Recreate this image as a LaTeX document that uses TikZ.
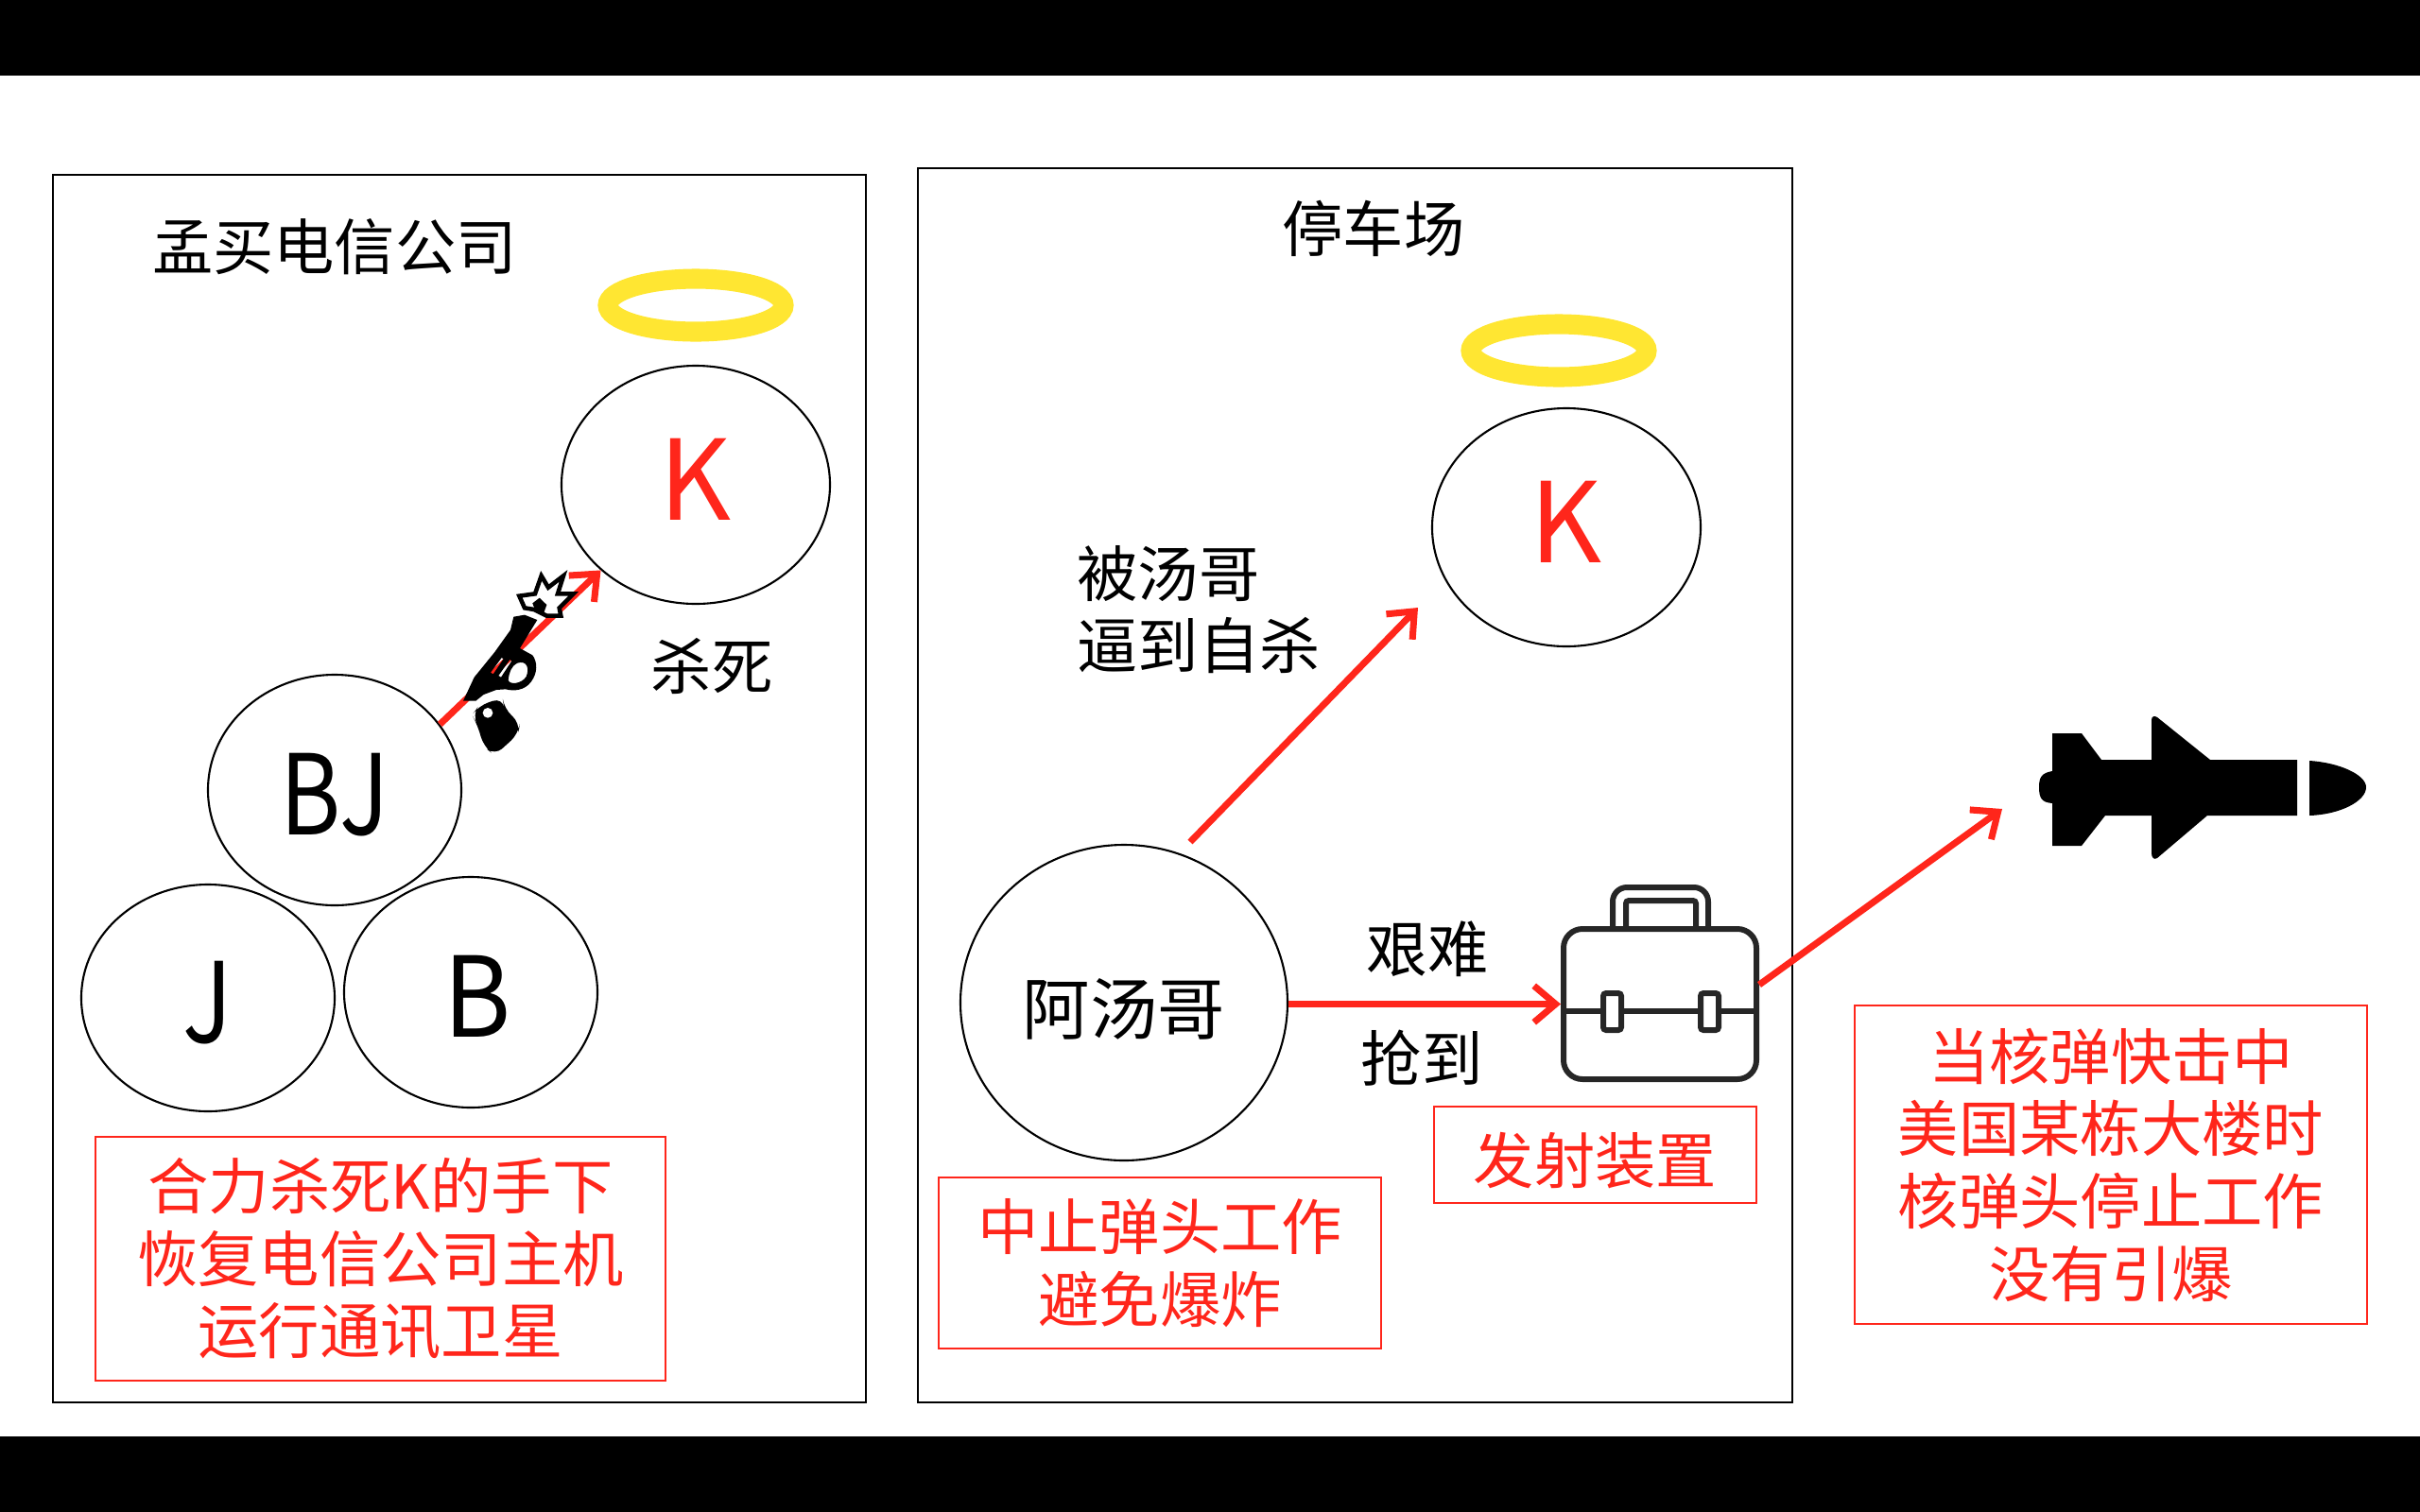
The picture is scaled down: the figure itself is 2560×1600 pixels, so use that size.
\documentclass[tikz,border=0pt]{standalone}
\usepackage{fontspec}
\setmainfont{Noto Sans CJK SC}
\usetikzlibrary{positioning,shapes.geometric,arrows.meta}
\definecolor{redc}{RGB}{255,38,27}
\definecolor{haloc}{RGB}{255,230,50}
\newcommand{\textsz}{\fontsize{18.3pt}{21.8pt}\selectfont}

\begin{document}
\begin{tikzpicture}[x=0.1mm, y=-0.1mm, >={Straight Barb[length=6.5pt,width=11pt]},
  panel/.style={rectangle, draw, line width=0.6pt, inner sep=0pt},
  person/.style={ellipse, draw, line width=0.6pt, inner sep=0pt, minimum width=26.8mm, minimum height=24.4mm, font=\fontsize{33.5pt}{34pt}\selectfont, text height=27.3pt, text depth=0pt},
  killer/.style={person, text=redc, minimum width=28.4mm, minimum height=25.2mm, text height=24.5pt, text depth=3.4pt},
  halo/.style={ellipse, draw=haloc, line width=6pt, inner sep=0pt, minimum width=18.6mm, minimum height=5.6mm},
  note/.style={rectangle, draw=redc, line width=0.6pt, text=redc, align=center, inner sep=0pt, font=\textsz, execute at begin node={\rule{0pt}{19pt}}},
  label/.style={font=\textsz, align=left, inner sep=0pt},
  redarrow/.style={->, color=redc, line width=2pt}]

    \useasboundingbox (0,0) rectangle (2560,1600);
    \fill[black] (0,0) rectangle (2560,80);
    \fill[black] (0,1520) rectangle (2560,1600);

    % left panel
    \node[panel, minimum width=86mm, minimum height=129.9mm] (mumbai) at (486,834.5) {};
    \node[label] (mumbaititle) at (354,261) {孟买电信公司};
    \node[killer] (kone) at (736,513) {K};
    \node[halo, above of=kone, node distance=19mm] (haloone) {};
    \node[person] (bj) at (354,836) {\scalebox{0.83}[1]{BJ}};
    \node[person, minimum height=24mm] (j) at (220,1056) {\scalebox{0.83}[1]{J}};
    \node[person] (b) at (498,1050) {\hspace*{4pt}\scalebox{0.92}[1]{B}};
    \node[label] (kill) at (753,705) {杀死};
    \node[note, minimum width=60.3mm, minimum height=25.8mm] (notekill) at (402.5,1332) {合力杀死K的手下\\恢复电信公司主机\\运行通讯卫星};

    % right panel
    \node[panel, minimum width=92.5mm, minimum height=130.6mm] (parking) at (1433.5,831) {};
    \node[label] (parkingtitle) at (1453,242) {停车场};
    \node[killer] (ktwo) at (1657,558) {K};
    \node[halo, above of=ktwo, node distance=18.7mm, xshift=-0.8mm] (halotwo) {};
    \node[person, minimum width=34.6mm, minimum height=33.4mm, font=\fontsize{20.3pt}{20pt}\selectfont, text height=19pt, text depth=0pt] (tom) at (1189,1061) {阿汤哥};
    \node[label] (forced) at (1268,645) {被汤哥\\逼到自杀};
    \node[label] (hard) at (1510,1004) {艰难};
    \node[label] (grab) at (1504,1120) {抢到};
    \node[rectangle, draw=black!85, line width=1.7pt, rounded corners=2mm, minimum width=20.4mm, minimum height=15.9mm, inner sep=0pt] (case) at (1756,1062.5) {};
    \node[note, minimum width=46.8mm, minimum height=18.1mm] (notestop) at (1227,1336.5) {中止弹头工作\\避免爆炸};
    \node[note, minimum width=34.1mm, minimum height=10.2mm] (notedevice) at (1687.5,1222) {发射装置};
    \node[note, minimum width=54.2mm, minimum height=33.7mm] (notenuke) at (2233,1232.5) {当核弹快击中\\美国某栋大楼时\\核弹头停止工作\\没有引爆};

    \node[coordinate] (tomtop) at (1259,891) {};
    \node[coordinate] (tipk) at (1500,643) {};
    \node[coordinate] (casee) at (1861,1042) {};
    \node[coordinate] (tipm) at (2118,856) {};

    \draw[redarrow] (bj.32) -- (kone.222);
    \draw[redarrow] (tomtop) -- (tipk);
    \draw[redarrow] (tom.east |- case.west) -- (case.west);
    \draw[redarrow] (casee) -- (tipm);

    % gun, on top of the arrow
    \begin{scope}[shift={(440,560)}, xscale=1/3, yscale=1/3]
      \fill[black, even odd rule] (310,278) -- (345,272) -- (385,288) -- (330,378) -- (370,400) .. controls (385,420) and (388,455) .. (365,485) .. controls (345,512) and (310,515) .. (285,508) -- (255,510) -- (215,525) -- (190,545) -- (150,545) -- (185,470) -- (250,390) -- (300,320) -- cycle
        (322,425) .. controls (350,415) and (362,440) .. (350,468) .. controls (335,492) and (295,495) .. (293,478) .. controls (296,455) and (302,435) .. (322,425) -- cycle
        (237,455) -- (272,408) -- (278,412) -- (245,460) -- cycle
        (262,465) -- (298,414) -- (304,418) -- (270,470) -- cycle;
      \fill[black, rounded corners=3pt] (178,590) -- (200,560) -- (275,535) -- (280,570) -- (330,615) -- (325,650) -- (250,718) -- (215,690) -- (195,620) -- cycle;
      \fill[white] (228,583) circle[radius=16];
      \draw[black, fill=white, line width=1.3pt, line join=miter] (328,212) -- (378,205) -- (398,148) -- (420,185) -- (468,148) -- (450,205) -- (500,205) -- (455,250) -- (460,275) -- (415,275) -- (375,255) -- (345,250) -- cycle;
      \fill[black] (392,218) -- (415,240) -- (405,268) -- (380,262) -- (370,235) -- cycle;
    \end{scope}

    % briefcase
    \draw[black!85, line width=1.7pt, rounded corners=1.5mm] (1706,982) -- (1706,939) -- (1807,939) -- (1807,982);
    \draw[black!85, line width=1.7pt, rounded corners=0.3mm] (1720,982) -- (1720,953) -- (1794,953) -- (1794,982);
    \draw[black!85, line width=1.7pt] (case.west |- 0,1070) -- (1694,1070) (1717,1070) -- (1797,1070) (1820,1070) -- (case.east |- 0,1070);
    \draw[black!85, line width=1.7pt, rounded corners=0.3mm] (1696,1051) rectangle (1715,1090);
    \draw[black!85, line width=1.7pt, rounded corners=0.3mm] (1799,1051) rectangle (1818,1090);

    % missile
    \fill[black] (2171,816) .. controls (2160,818) and (2157,822) .. (2157,833) .. controls (2157,845) and (2160,849) .. (2171,850) -- (2171,895) -- (2202,895) -- (2227,863) -- (2276,863) -- (2276,903) .. controls (2276,908) and (2279,910) .. (2282,908) -- (2335,863) -- (2430,863) -- (2430,804) -- (2338,804) -- (2282,759) .. controls (2279,757) and (2276,758) .. (2276,762) -- (2276,804) -- (2223,804) -- (2202,776) -- (2171,776) -- cycle;
    \fill[black] (2443,805) .. controls (2475,807) and (2503,820) .. (2503,833) .. controls (2503,848) and (2475,862) .. (2443,863) -- cycle;

  \end{tikzpicture}
\end{document}
